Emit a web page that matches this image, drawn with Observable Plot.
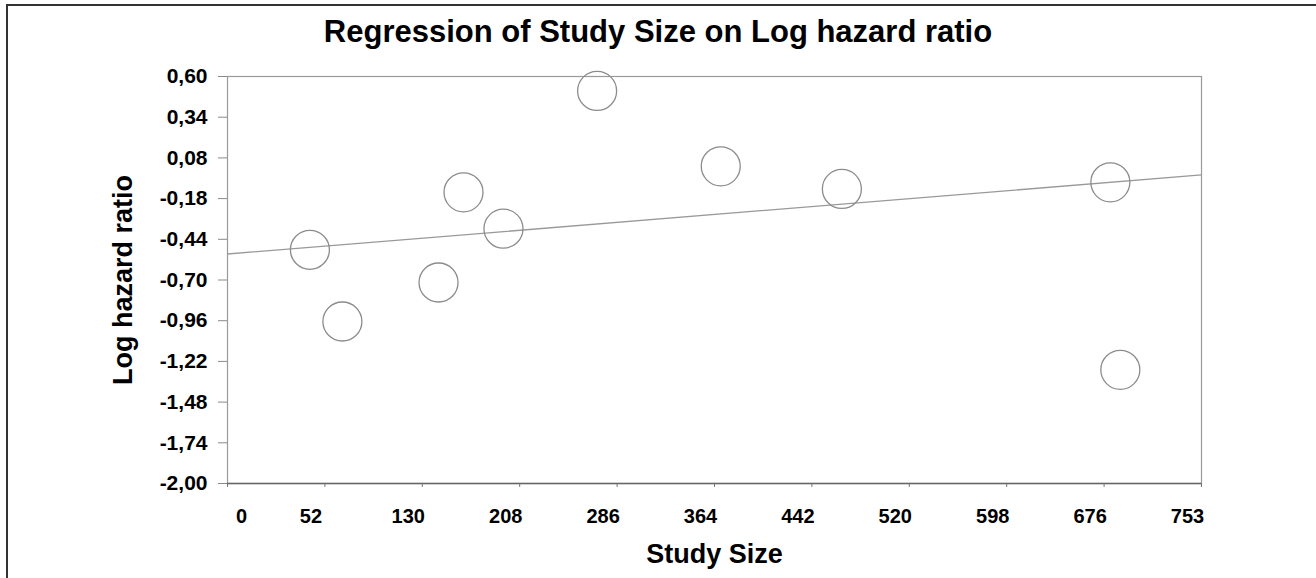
<!DOCTYPE html>
<html>
<head>
<meta charset="utf-8">
<script src="https://cdn.jsdelivr.net/npm/d3@7"></script>
<script src="https://cdn.jsdelivr.net/npm/@observablehq/plot@0.6"></script>
<style>
  html, body { margin: 0; padding: 0; background: #fff; }
  #wrap { position: relative; width: 1316px; height: 578px; overflow: hidden; background: #fff; font-family: "Liberation Sans", Arial, sans-serif; }
  #title { position: absolute; left: 0; top: 0; width: 1316px; height: 60px; text-align: center; font-weight: bold; font-size: 31px; line-height: 31px; padding-top: 16px; box-sizing: border-box; color: #000; }
  #chart { position: absolute; left: 0; top: 60px; }
  #bl { position: absolute; left: 6px; top: 4px; width: 2px; height: 574px; background: #333; }
  #bt { position: absolute; left: 6px; top: 4px; width: 1310px; height: 2px; background: #333; }
</style>
</head>
<body>
<div id="wrap">
  <div id="title">Regression of Study Size on Log hazard ratio</div>
  <div id="chart"></div>
  <div id="bl"></div>
  <div id="bt"></div>
</div>
<script>
// Data
const studySize = [40, 66, 143, 163, 195, 270, 369, 466, 681, 689];
const logHR     = [-0.507, -0.965, -0.716, -0.140, -0.372, 0.508, 0.026, -0.118, -0.076, -1.274];

// Regression line endpoints (at axis limits)
const lineX = [-26, 754];
const lineY = [-0.534, -0.029];

// Axis ticks
const xTicks = [-26, 52, 130, 208, 286, 364, 442, 520, 598, 676, 754];
const xTickLabels = ["0", "52", "130", "208", "286", "364", "442", "520", "598", "676", "753"];
const yTicks = [0.60, 0.34, 0.08, -0.18, -0.44, -0.70, -0.96, -1.22, -1.48, -1.74, -2.00];

const points = studySize.map((s, i) => ({x: s, y: logHR[i]}));
const regLine = lineX.map((x, i) => ({x, y: lineY[i]}));
const xLab = xTicks.map((t, i) => ({x: t, label: xTickLabels[i]}));

const font = "Liberation Sans, Arial, sans-serif";

const chart = Plot.plot({
  width: 1316,
  height: 518,
  marginTop: 16,
  marginBottom: 95,
  marginLeft: 227,
  marginRight: 115,
  style: {fontFamily: font, background: "#fff", color: "#000"},
  x: {domain: [-26, 754], axis: null},
  y: {domain: [-2, 0.6], axis: null},
  marks: [
    Plot.frame({stroke: "#9a9a9a", strokeWidth: 1.2}),
    Plot.axisY({
      ticks: yTicks,
      tickSize: 9,
      tickPadding: 11,
      stroke: "#8a8a8a",
      tickFormat: d => d.toFixed(2).replace(".", ","),
      fontSize: 21,
      fontWeight: "bold",
      fill: "#000",
      label: null
    }),
    Plot.axisX({
      ticks: xTicks,
      tickSize: 4,
      stroke: "#777",
      tickFormat: () => "",
      label: null
    }),
    Plot.ruleY([-2], {stroke: "#666", strokeWidth: 1.5}),
    Plot.line(regLine, {x: "x", y: "y", stroke: "#999", strokeWidth: 1.3}),
    Plot.dot(points, {x: "x", y: "y", r: 19.5, stroke: "#8c8c8c", strokeWidth: 1.3, fill: "none"}),
    Plot.text(xLab.slice(0, 1), {x: "x", y: () => -2, text: "label", dx: 14, dy: 33, fontSize: 20, fontWeight: "bold", fill: "#000", lineAnchor: "middle"}),
    Plot.text(xLab.slice(1), {x: "x", y: () => -2, text: "label", dx: -14, dy: 33, fontSize: 20, fontWeight: "bold", fill: "#000", lineAnchor: "middle"}),
    Plot.text(["Study Size"], {frameAnchor: "bottom", dy: 71, fontSize: 27, fontWeight: "bold", fill: "#000", lineAnchor: "middle"}),
    Plot.text(["Log hazard ratio"], {frameAnchor: "left", dx: -104, rotate: -90, textAnchor: "middle", fontSize: 27, fontWeight: "bold", fill: "#000", lineAnchor: "middle"})
  ]
});
document.getElementById("chart").appendChild(chart);
</script>
</body>
</html>
